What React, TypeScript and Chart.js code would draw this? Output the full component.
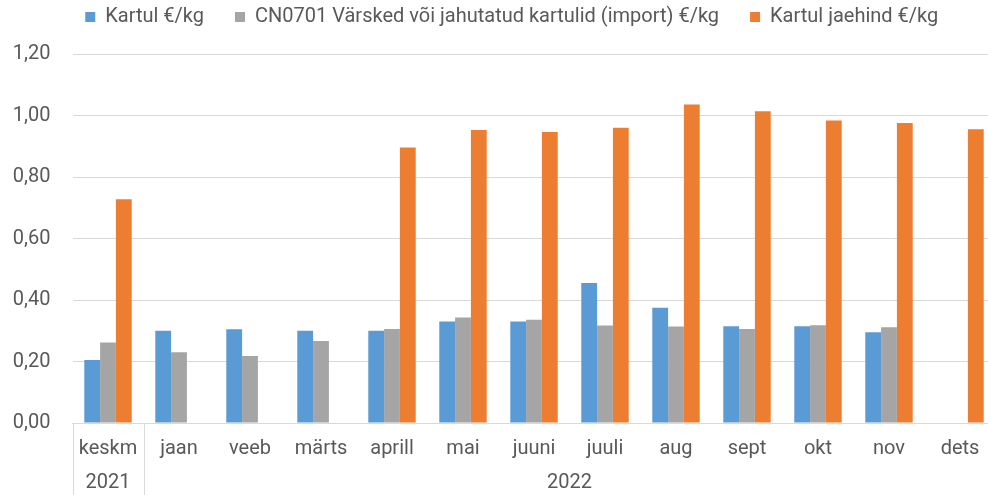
import React, { useEffect, useRef } from 'react';
import { Chart, registerables } from 'chart.js';

Chart.register(...registerables);

const categories = ['keskm', 'jaan', 'veeb', 'märts', 'aprill', 'mai', 'juuni', 'juuli', 'aug', 'sept', 'okt', 'nov', 'dets'];
const years = ['2021', '2022'];
const yearSpans = [1, 12];

const seriesNames = [
  'Kartul €/kg',
  'CN0701 Värsked või jahutatud kartulid (import) €/kg',
  'Kartul jaehind €/kg',
];
const kartul = [0.205, 0.30, 0.305, 0.30, 0.30, 0.33, 0.33, 0.455, 0.375, 0.315, 0.315, 0.295, null];
const cn0701 = [0.262, 0.23, 0.218, 0.267, 0.306, 0.343, 0.336, 0.317, 0.314, 0.306, 0.318, 0.311, null];
const jaehind = [0.728, null, null, null, 0.896, 0.953, 0.946, 0.96, 1.036, 1.014, 0.984, 0.976, 0.955];

const yMin = 0;
const yMax = 1.2;
const yStep = 0.2;

const TEXT = '#595959';
const GRID = '#d9d9d9';
const FONT = 'Roboto';

const W = 1000;
const H = 495;

const App = () => {
  const ref = useRef<HTMLCanvasElement | null>(null);

  useEffect(() => {
    if (!ref.current) return;

    const legendShift = {
      id: 'legendShift',
      afterLayout(chart: any) {
        const lg = chart.legend;
        if (!lg) return;
        const dx = 14;
        const dy = -24;
        lg.left += dx;
        lg.right += dx;
        lg.top += dy;
        lg.bottom += dy;
      },
    };

    const yearRow = {
      id: 'yearRow',
      afterDraw(chart: any) {
        const xs = chart.scales.x;
        const area = chart.chartArea;
        const ctx = chart.ctx;
        const n = categories.length;
        const w = (xs.right - xs.left) / n;
        ctx.save();
        ctx.strokeStyle = GRID;
        ctx.lineWidth = 1;
        let idx = 0;
        const bounds = [0];
        yearSpans.forEach((s) => {
          idx += s;
          bounds.push(idx);
        });
        bounds.forEach((b) => {
          const px = Math.round(xs.left + b * w) + 0.5;
          ctx.beginPath();
          ctx.moveTo(px, area.bottom);
          ctx.lineTo(px, chart.height);
          ctx.stroke();
        });
        ctx.fillStyle = TEXT;
        ctx.font = `20px ${FONT}`;
        ctx.textAlign = 'center';
        ctx.textBaseline = 'middle';
        let start = 0;
        years.forEach((y, i) => {
          const c = xs.left + (start + yearSpans[i] / 2) * w;
          ctx.fillText(y, c, 483);
          start += yearSpans[i];
        });
        ctx.restore();
      },
    };

    const chart = new Chart(ref.current, {
      type: 'bar',
      data: {
        labels: categories,
        datasets: [
          { label: seriesNames[0], data: kartul, backgroundColor: '#5B9BD5', borderWidth: 0 },
          { label: seriesNames[1], data: cn0701, backgroundColor: '#A5A5A5', borderWidth: 0 },
          { label: seriesNames[2], data: jaehind, backgroundColor: '#ED7D31', borderWidth: 0 },
        ],
      },
      options: {
        animation: false,
        responsive: false,
        devicePixelRatio: 1,
        datasets: { bar: { categoryPercentage: 0.668, barPercentage: 1 } },
        layout: { padding: { left: 0, right: W - 995.5, top: 0, bottom: 0 } },
        plugins: {
          tooltip: { enabled: false },
          legend: {
            position: 'top',
            maxHeight: 54,
            labels: {
              boxWidth: 10,
              boxHeight: 10,
              padding: 31,
              color: TEXT,
              font: { family: FONT, size: 20 },
            },
          },
        },
        scales: {
          x: {
            type: 'category',
            offset: true,
            grid: { display: false },
            border: { display: true, color: GRID, width: 1 },
            ticks: { color: TEXT, font: { family: FONT, size: 20 }, padding: 6, maxRotation: 0, autoSkip: false },
            afterFit: (s: any) => { s.height = 72; },
          },
          y: {
            min: yMin,
            max: yMax,
            grid: { color: GRID, lineWidth: 1, drawTicks: false },
            border: { display: false },
            ticks: {
              stepSize: yStep,
              color: TEXT,
              padding: 22,
              font: { family: FONT, size: 20 },
              callback: (v: any) => Number(v).toFixed(2).replace('.', ','),
            },
            afterFit: (s: any) => { s.width = 72.5; },
          },
        },
      },
      plugins: [legendShift, yearRow],
    });

    return () => chart.destroy();
  }, []);

  return (
    <div style={{ position: 'fixed', left: 0, top: 0, width: 988, height: 495, overflow: 'hidden', background: '#fff' }}>
      <canvas ref={ref} width={W} height={H} style={{ width: W, height: H, display: 'block' }} />
    </div>
  );
};

export default App;
